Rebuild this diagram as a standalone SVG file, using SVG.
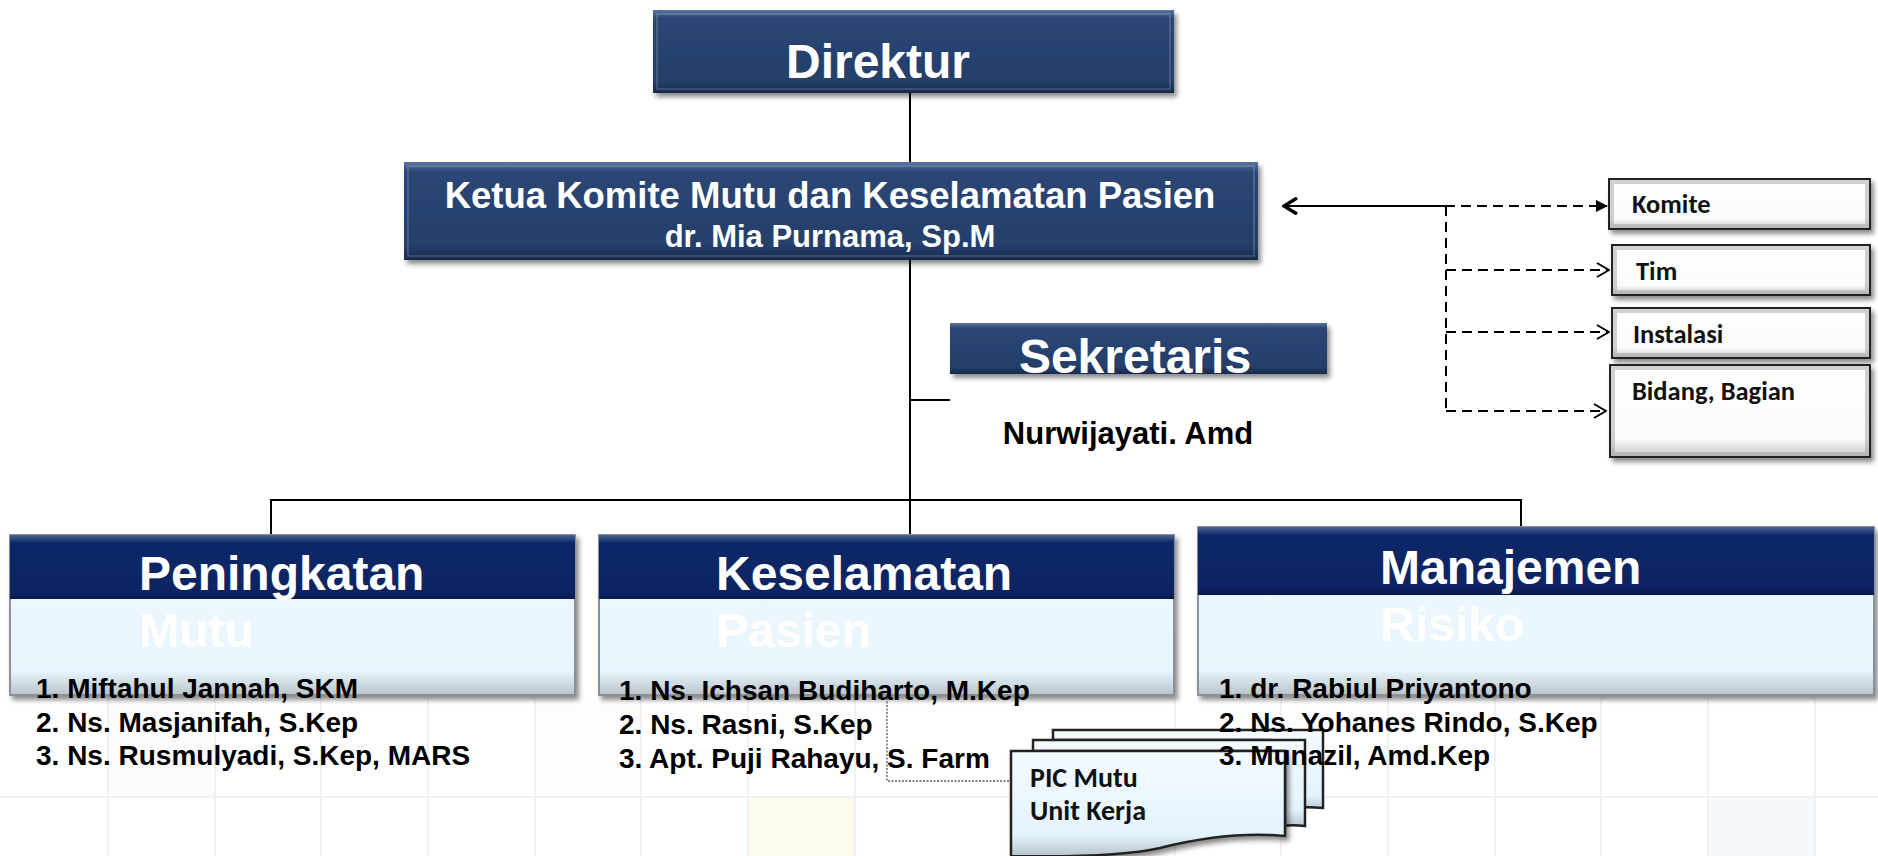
<svg xmlns="http://www.w3.org/2000/svg" width="1878" height="856" viewBox="0 0 1878 856">
<style>
.ar{font-family:"Liberation Sans",Arial,sans-serif;font-weight:bold}
.cb{font-family:Carlito,Lato,"Open Sans",sans-serif;font-weight:bold;fill:#111}
.w{fill:#fff}
.k{fill:#000}
.ln{stroke:#000;stroke-width:2;fill:none}
.dl{stroke:#000;stroke-width:2;fill:none;stroke-dasharray:10 6}
.tile{fill:none;stroke:#f1f1f1;stroke-width:2}
.bev{fill:none;stroke:#9a9a9a;stroke-opacity:0.45;stroke-width:4}
</style>
<defs>
<filter id="sh" x="-5%" y="-10%" width="112%" height="130%">
<feDropShadow dx="3" dy="4" stdDeviation="2.5" flood-color="#000" flood-opacity="0.45"/>
</filter>
<linearGradient id="navy" x1="0" y1="0" x2="0" y2="1">
<stop offset="0" stop-color="#5b74a0"/>
<stop offset="0.1" stop-color="#2b4674"/>
<stop offset="0.85" stop-color="#253f6b"/>
<stop offset="1" stop-color="#172a4d"/>
</linearGradient>
<linearGradient id="deep" x1="0" y1="0" x2="0" y2="1">
<stop offset="0" stop-color="#4a6396"/>
<stop offset="0.12" stop-color="#0e2868"/>
<stop offset="0.9" stop-color="#0a2462"/>
<stop offset="1" stop-color="#061a4a"/>
</linearGradient>
<linearGradient id="light" x1="0" y1="0" x2="0" y2="1">
<stop offset="0" stop-color="#ffffff"/>
<stop offset="0.1" stop-color="#eef8fd"/>
<stop offset="0.85" stop-color="#e8f5fc"/>
<stop offset="1" stop-color="#b9c4ca"/>
</linearGradient>
<linearGradient id="wbox" x1="0" y1="0" x2="0" y2="1">
<stop offset="0" stop-color="#ffffff"/>
<stop offset="0.8" stop-color="#fbfbfb"/>
<stop offset="1" stop-color="#c8c8c8"/>
</linearGradient>
<linearGradient id="doc" x1="0" y1="0" x2="0" y2="1">
<stop offset="0" stop-color="#f4fbff"/>
<stop offset="0.8" stop-color="#e3f3fc"/>
<stop offset="1" stop-color="#b5c2ca"/>
</linearGradient>
<marker id="afill" viewBox="0 0 12 12" refX="11" refY="6" markerWidth="12" markerHeight="12" markerUnits="userSpaceOnUse" orient="auto">
<path d="M0,0 L12,6 L0,12 Z" fill="#000"/>
</marker>
<marker id="aopen" viewBox="0 0 14 16" refX="13" refY="8" markerWidth="14" markerHeight="16" markerUnits="userSpaceOnUse" orient="auto">
<path d="M1,1 L13,8 L1,15" fill="none" stroke="#000" stroke-width="2"/>
</marker>
<marker id="aleft" viewBox="0 0 16 18" refX="14" refY="9" markerWidth="16" markerHeight="18" markerUnits="userSpaceOnUse" orient="auto">
<path d="M1,1 L14,9 L1,17" fill="none" stroke="#000" stroke-width="3.5"/>
</marker>
</defs>
<rect width="1878" height="856" fill="#fff"/>
<g id="background">
<rect x="748" y="797" width="107" height="59" fill="#fdf9ef"/>
<rect x="1708" y="797" width="107" height="59" fill="#f6f9fb"/>
<rect x="108" y="698" width="107" height="99" fill="#fcfcfc"/>
<rect x="535" y="698" width="107" height="99" fill="#fdfdfb"/>
<path class="tile" d="M0,797 H1878 M108,698 V856 M215,698 V856 M321,698 V856 M428,698 V856 M535,698 V856 M641,698 V856 M748,698 V856 M855,698 V856 M1175,698 V856 M1281,698 V856 M1388,698 V856 M1495,698 V856 M1601,698 V856 M1708,698 V856 M1815,698 V856"/>
</g>
<g id="connectors">
<line class="ln" x1="910" y1="93" x2="910" y2="162"/>
<line class="ln" x1="910" y1="260" x2="910" y2="535"/>
<line class="ln" x1="910" y1="400" x2="950" y2="400"/>
<polyline class="ln" points="271,535 271,500 1521,500 1521,527"/>
<polyline points="887,698 887,781 1011,781" fill="none" stroke="#555" stroke-width="1.3" stroke-dasharray="2 1.5"/>
<line class="ln" x1="1445" y1="206" x2="1284" y2="206" marker-end="url(#aleft)"/>
<line class="dl" x1="1445" y1="206" x2="1607" y2="206" marker-end="url(#afill)"/>
<line class="dl" x1="1446" y1="206" x2="1446" y2="411"/>
<line class="dl" x1="1446" y1="270" x2="1609" y2="270" marker-end="url(#aopen)"/>
<line class="dl" x1="1446" y1="332" x2="1609" y2="332" marker-end="url(#aopen)"/>
<line class="dl" x1="1446" y1="411" x2="1606" y2="411" marker-end="url(#aopen)"/>
</g>
<g id="direktur">
<rect x="653" y="10" width="521" height="83" fill="url(#navy)" filter="url(#sh)"/>
<rect x="657" y="14" width="513" height="75" fill="none" stroke="#fff" stroke-opacity="0.15" stroke-width="2"/>
<text class="ar w" x="878" y="78" font-size="48" text-anchor="middle">Direktur</text>
</g>
<g id="ketua">
<rect x="404" y="162" width="854" height="98" fill="url(#navy)" filter="url(#sh)"/>
<rect x="408" y="166" width="846" height="90" fill="none" stroke="#fff" stroke-opacity="0.15" stroke-width="2"/>
<text class="ar w" x="830" y="208" font-size="36.5" text-anchor="middle">Ketua Komite Mutu dan Keselamatan Pasien</text>
<text class="ar w" x="830" y="247" font-size="31" text-anchor="middle">dr. Mia Purnama, Sp.M</text>
</g>
<g id="sekretaris">
<rect x="950" y="323" width="377" height="51" fill="url(#navy)" filter="url(#sh)"/>
<text class="ar w" x="1135" y="373" font-size="48" text-anchor="middle">Sekretaris</text>
<text class="ar k" x="1128" y="444" font-size="31" text-anchor="middle">Nurwijayati. Amd</text>
</g>
<g id="komite">
<rect x="1609" y="179" width="261" height="50" fill="url(#wbox)" stroke="#222" stroke-width="2" filter="url(#sh)"/>
<rect class="bev" x="1612" y="182" width="255" height="44"/>
<text class="cb" x="1632" y="213" font-size="26.5">Komite</text>
</g>
<g id="tim">
<rect x="1612" y="245" width="258" height="50" fill="url(#wbox)" stroke="#222" stroke-width="2" filter="url(#sh)"/>
<rect class="bev" x="1615" y="248" width="252" height="44"/>
<text class="cb" x="1636" y="280" font-size="26.5">Tim</text>
</g>
<g id="instalasi">
<rect x="1612" y="308" width="258" height="50" fill="url(#wbox)" stroke="#222" stroke-width="2" filter="url(#sh)"/>
<rect class="bev" x="1615" y="311" width="252" height="44"/>
<text class="cb" x="1633" y="343" font-size="26.5">Instalasi</text>
</g>
<g id="bidang">
<rect x="1610" y="365" width="260" height="92" fill="url(#wbox)" stroke="#222" stroke-width="2" filter="url(#sh)"/>
<rect class="bev" x="1613" y="368" width="254" height="86"/>
<text class="cb" x="1632" y="400" font-size="26.5">Bidang, Bagian</text>
</g>
<g id="peningkatan-mutu">
<g filter="url(#sh)">
<rect x="10" y="535" width="565" height="160" fill="url(#light)" stroke="#8a9297" stroke-width="2"/>
<rect x="10" y="535" width="565" height="64" fill="url(#deep)"/>
</g>
<text class="ar w" x="139" y="590" font-size="48">Peningkatan</text>
<text class="ar w" x="139" y="647" font-size="48">Mutu</text>
<text class="ar k" x="36" y="698" font-size="28">1. Miftahul Jannah, SKM</text>
<text class="ar k" x="36" y="732" font-size="28">2. Ns. Masjanifah, S.Kep</text>
<text class="ar k" x="36" y="765" font-size="28">3. Ns. Rusmulyadi, S.Kep, MARS</text>
</g>
<g id="keselamatan-pasien">
<g filter="url(#sh)">
<rect x="599" y="535" width="575" height="160" fill="url(#light)" stroke="#8a9297" stroke-width="2"/>
<rect x="599" y="535" width="575" height="64" fill="url(#deep)"/>
</g>
<text class="ar w" x="716" y="590" font-size="48">Keselamatan</text>
<text class="ar w" x="716" y="647" font-size="48">Pasien</text>
<text class="ar k" x="619" y="700" font-size="28">1. Ns. Ichsan Budiharto, M.Kep</text>
<text class="ar k" x="619" y="734" font-size="28">2. Ns. Rasni, S.Kep</text>
<text class="ar k" x="619" y="768" font-size="28">3. Apt. Puji Rahayu, S. Farm</text>
</g>
<g id="pic-mutu">
<path d="M1053,730 H1323 V808 C1300,806 1285,808 1270,812 V740 H1053 Z" fill="url(#doc)" stroke="#222" stroke-width="2.5"/>
<path d="M1033,740 H1305 V826 C1290,824 1280,826 1285,828 V751 H1033 Z" fill="url(#doc)" stroke="#222" stroke-width="2.5"/>
<path d="M1011,751 H1285 V836 C1240,832 1200,838 1160,848 C1120,857 1060,857 1011,856 Z" fill="url(#doc)" stroke="#222" stroke-width="2.5" filter="url(#sh)"/>
<text class="cb" x="1030" y="787" font-size="28">PIC Mutu</text>
<text class="cb" x="1030" y="820" font-size="28">Unit Kerja</text>
</g>
<g id="manajemen-risiko">
<g filter="url(#sh)">
<rect x="1198" y="527" width="676" height="168" fill="url(#light)" stroke="#8a9297" stroke-width="2"/>
<rect x="1198" y="527" width="676" height="68" fill="url(#deep)"/>
</g>
<text class="ar w" x="1380" y="584" font-size="48">Manajemen</text>
<text class="ar w" x="1380" y="641" font-size="48">Risiko</text>
<text class="ar k" x="1219" y="698" font-size="28">1. dr. Rabiul Priyantono</text>
<text class="ar k" x="1219" y="732" font-size="28">2. Ns. Yohanes Rindo, S.Kep</text>
<text class="ar k" x="1219" y="765" font-size="28">3. Munazil, Amd.Kep</text>
</g>
</svg>
